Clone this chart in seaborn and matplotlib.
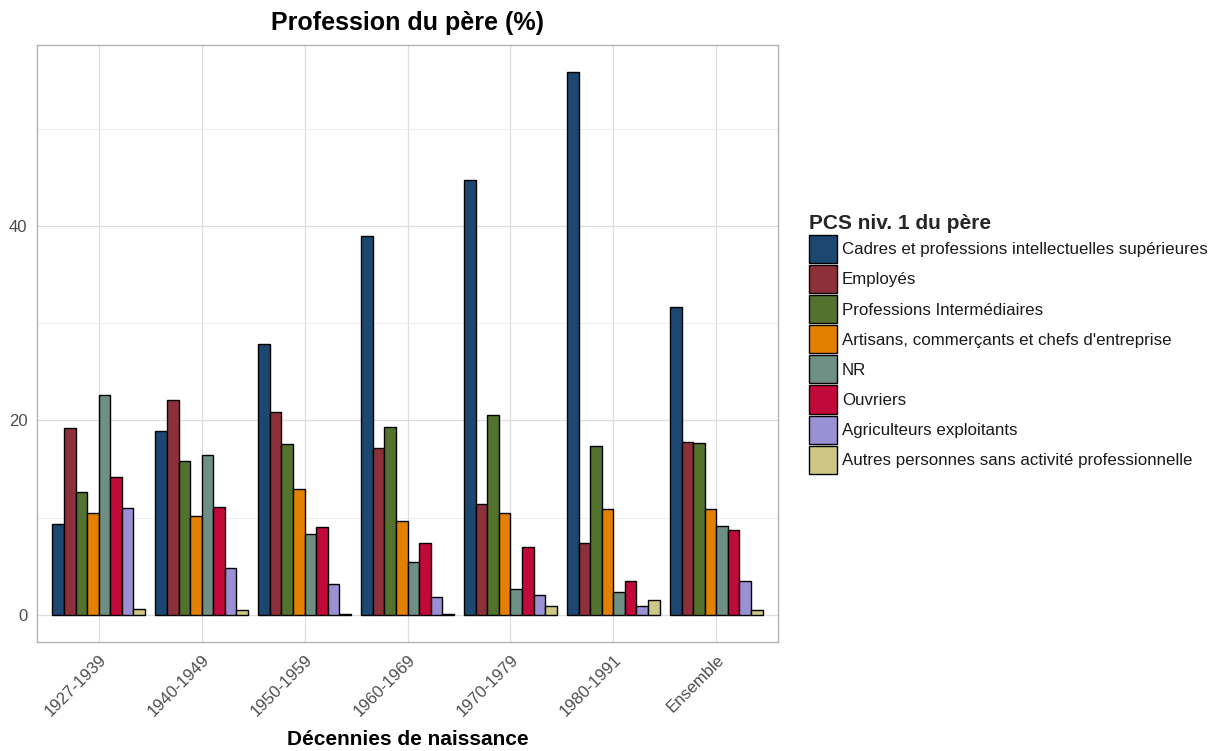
import matplotlib
matplotlib.use("Agg")
import matplotlib.pyplot as plt
import seaborn as sns
import pandas as pd
from matplotlib.patches import Patch

decennies = ["1927-1939", "1940-1949", "1950-1959", "1960-1969",
             "1970-1979", "1980-1991", "Ensemble"]
categories = ["Cadres et professions intellectuelles supérieures",
              "Employés",
              "Professions Intermédiaires",
              "Artisans, commerçants et chefs d'entreprise",
              "NR",
              "Ouvriers",
              "Agriculteurs exploitants",
              "Autres personnes sans activité professionnelle"]
cadres = [9.3, 18.9, 27.9, 39.0, 44.7, 55.8, 31.7]
employes = [19.2, 22.1, 20.9, 17.2, 11.4, 7.4, 17.8]
prof_inter = [12.6, 15.8, 17.6, 19.3, 20.6, 17.4, 17.7]
artisans = [10.5, 10.2, 12.9, 9.6, 10.5, 10.9, 10.9]
nr = [22.6, 16.4, 8.3, 5.4, 2.7, 2.4, 9.1]
ouvriers = [14.2, 11.1, 9.0, 7.4, 7.0, 3.5, 8.7]
agriculteurs = [11.0, 4.8, 3.2, 1.8, 2.0, 0.9, 3.5]
autres = [0.6, 0.45, 0.05, 0.1, 0.9, 1.5, 0.45]
colors = ["#1B4770", "#8E3039", "#52722E", "#E38000",
          "#6E9084", "#C20A3A", "#9991D4", "#CEC684"]

series = [cadres, employes, prof_inter, artisans, nr, ouvriers, agriculteurs, autres]
rows = []
for cat, vals in zip(categories, series):
    for d, v in zip(decennies, vals):
        rows.append({"decennie": d, "pcs": cat, "pct": v})
df = pd.DataFrame(rows)

sns.set_theme(style="white")
plt.rcParams["font.family"] = ["Liberation Sans", "DejaVu Sans"]

fig = plt.figure(figsize=(12.2, 7.51), dpi=100)
ax = fig.add_axes([37 / 1220, 1 - 642 / 751, (778 - 37) / 1220, (642 - 45) / 751])

sns.barplot(data=df, x="decennie", y="pct", hue="pcs", order=decennies,
            hue_order=categories, palette=colors, width=0.9,
            edgecolor="black", linewidth=1.0, saturation=1, ax=ax,
            legend=False, zorder=3)

ax.set_xlim(-0.6, 6.6)
ax.set_ylim(-2.79, 58.59)
ax.set_yticks([0, 20, 40])
ax.set_yticks([10, 30, 50], minor=True)
ax.grid(which="major", axis="both", color="#DEDEDE", linewidth=0.9, zorder=0)
ax.grid(which="minor", axis="y", color="#EBEBEB", linewidth=0.6, zorder=0)
ax.set_axisbelow(True)
for s in ax.spines.values():
    s.set_color("#B3B3B3")
    s.set_linewidth(1.0)

ax.tick_params(axis="both", which="major", length=4, color="#B3B3B3",
               labelcolor="#4D4D4D", labelsize=12, width=0.8, pad=3)
ax.tick_params(axis="y", which="minor", length=0)
plt.setp(ax.get_xticklabels(), rotation=45, ha="right", va="top",
         rotation_mode="anchor")

ax.set_xlabel("Décennies de naissance", fontsize=15, fontweight="bold",
              color="black", labelpad=8)
ax.set_ylabel("")
ax.set_title("Profession du père (%)", fontsize=18, fontweight="bold",
             color="black", pad=11)

handles = [Patch(facecolor=c, edgecolor="black", linewidth=1.0) for c in colors]
leg = fig.legend(handles, categories, loc="upper left",
                 bbox_to_anchor=(809 / 1220, 1 - 214 / 751),
                 frameon=False, title="PCS niv. 1 du père",
                 title_fontproperties={"weight": "bold", "size": 15},
                 fontsize=12.2, handlelength=1.65, handleheight=2.17,
                 labelspacing=0.12, handletextpad=0.3, borderpad=0,
                 borderaxespad=0, alignment="left")
for t in leg.get_texts():
    t.set_color("#1A1A1A")

fig.savefig("out.png", dpi=100)
